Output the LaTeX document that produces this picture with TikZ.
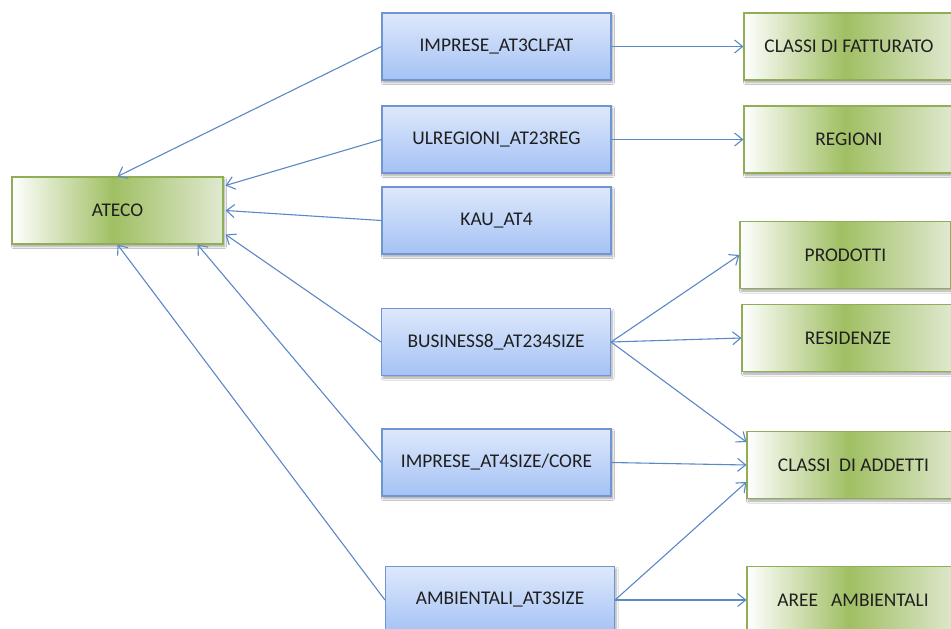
\documentclass[tikz,border=0pt]{standalone}
\usepackage{fontspec}
\setmainfont{Carlito}
\usetikzlibrary{arrows.meta,shadows,shadows.blur}

\definecolor{txt}{HTML}{1F1F1F}
\definecolor{link}{HTML}{5A88C8}
\definecolor{bluetop}{HTML}{DEE8FB}
\definecolor{bluebot}{HTML}{A4C2F5}
\definecolor{blueedge}{HTML}{6F95D3}
\definecolor{gmid}{HTML}{A0BF63}
\definecolor{glight}{HTML}{E0E9D1}
\definecolor{gedge}{HTML}{8FAE55}

% white -> green -> pale green across the green boxes
\pgfdeclarehorizontalshading{greenband}{100bp}{%
  color(0bp)=(white); color(25bp)=(white); color(49bp)=(gmid);
  color(75bp)=(glight); color(100bp)=(glight)}

\tikzset{
  boxshadow/.style={blur shadow={shadow xshift=1.5pt, shadow yshift=-2.5pt,
      shadow blur steps=6, shadow blur radius=2pt, shadow opacity=35}},
  tablebox/.style={draw=blueedge, line width=1.1pt, top color=bluetop,
      bottom color=bluebot, minimum width=229pt, minimum height=67pt,
      inner sep=0pt, text=txt, font=\fontsize{19.4}{21}\selectfont, boxshadow},
  classbox/.style={draw=gedge, line width=1.1pt, shading=greenband,
      minimum width=212pt, minimum height=67pt,
      inner sep=0pt, text=txt, font=\fontsize{19.4}{21}\selectfont, boxshadow},
  link/.style={draw=link, line width=1.1pt,
      -{Straight Barb[length=8pt,width=13pt,line width=1.1pt]}},
}

\begin{document}
\begin{tikzpicture}[x=1pt, y=-1pt]
\useasboundingbox[fill=white] (0,0) rectangle (951,629);

% classification on the left
\node[classbox, minimum width=211pt] (ateco) at (117.5,210.5) {ATECO};

% source tables
\node[tablebox] (clfat) at (496.5,46.5)  {IMPRESE\_AT3CLFAT};
\node[tablebox] (ulreg) at (496.5,139.5) {ULREGIONI\_AT23REG};
\node[tablebox] (kau)   at (496.5,220.5) {KAU\_AT4};
\node[tablebox] (bus)   at (496,342)     {BUSINESS8\_AT234SIZE};
\node[tablebox] (core)  at (496.5,462.5) {IMPRESE\_AT4SIZE/CORE};
\node[tablebox] (amb)   at (500,600)     {AMBIENTALI\_AT3SIZE};

% classifications on the right
\node[classbox, minimum width=210pt] (fatt) at (849,46.5)  {CLASSI DI FATTURATO};
\node[classbox, minimum width=210pt] (reg)  at (849,139.5) {REGIONI};
\node[classbox, minimum width=211pt] (prod) at (845.5,255) {PRODOTTI};
\node[classbox] (res)  at (848,338)   {RESIDENZE};
\node[classbox, minimum width=213pt] (add)  at (853.5,465) {CLASSI\ \ DI ADDETTI};
\node[classbox] (aree) at (853,600)   {AREE\ \ \ AMBIENTALI};

% links to ATECO
\draw[link] (clfat.west) -- (ateco.north);
\draw[link] (ulreg.west) -- ([xshift=2pt,yshift=25pt]ateco.east);
\draw[link] (kau.west)   -- ([xshift=2pt]ateco.east);
\draw[link] (bus.west)   -- ([xshift=2pt,yshift=-24pt]ateco.east);
\draw[link] (core.west)  -- ([xshift=80pt]ateco.south);
\draw[link] (amb.west)   -- (ateco.south);

% links to the right-hand classifications
\draw[link] (clfat.east) -- (fatt.west);
\draw[link] (ulreg.east) -- (reg.west);
\draw[link] (bus.east)   -- (prod.west);
\draw[link] (bus.east)   -- (res.west);
\draw[link] (bus.east)   -- ([yshift=23pt]add.west);
\draw[link] (core.east)  -- (add.west);
\draw[link] (amb.east)   -- ([yshift=-17pt]add.west);
\draw[link] (amb.east)   -- (aree.west);
\end{tikzpicture}
\end{document}
